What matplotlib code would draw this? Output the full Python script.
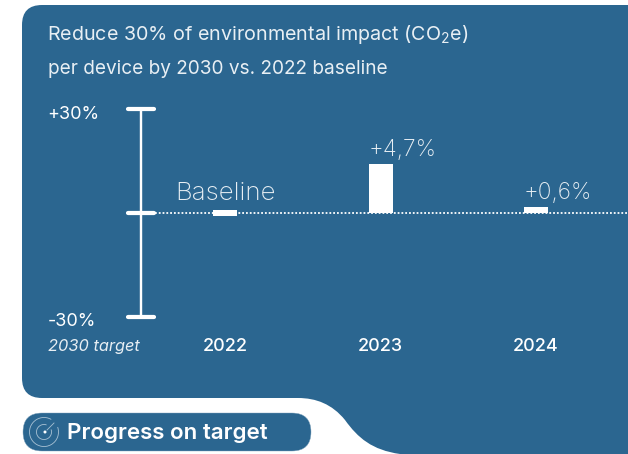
import matplotlib
matplotlib.use('Agg')
import matplotlib.pyplot as plt
from matplotlib.patches import PathPatch, FancyBboxPatch, Arc, Circle
from matplotlib.path import Path

years = ['2022', '2023', '2024']
impact = [0, 4.7, 0.6]
impact_labels = ['Baseline', '+4,7%', '+0,6%']
target_values = [30, 0, -30]
target_labels = ['+30%', '-30%']

BLUE = '#2b6690'
TXT = '#e8eff4'
W, H = 628, 454
px = 0.72  # pixels to points at dpi 100

plt.rcParams['font.family'] = ['Inter', 'DejaVu Sans']
plt.rcParams['mathtext.default'] = 'regular'

fig = plt.figure(figsize=(W / 100, H / 100), dpi=100, facecolor='white')

# background shapes, in pixels
bg = fig.add_axes([0, 0, 1, 1])
bg.set_xlim(0, W)
bg.set_ylim(H, 0)
bg.axis('off')

verts = [(42, 5), (W, 5), (W, H), (400, H),
         (372, 450), (358, 438), (345, 420),
         (332, 404), (316, 398), (298, 398),
         (42, 398), (22, 398), (22, 378),
         (22, 25), (22, 5), (42, 5), (42, 5)]
codes = [Path.MOVETO, Path.LINETO, Path.LINETO, Path.LINETO,
         Path.CURVE4, Path.CURVE4, Path.CURVE4,
         Path.CURVE4, Path.CURVE4, Path.CURVE4,
         Path.LINETO, Path.CURVE3, Path.CURVE3,
         Path.LINETO, Path.CURVE3, Path.CURVE3, Path.CLOSEPOLY]
bg.add_patch(PathPatch(Path(verts, codes), fc=BLUE, ec='none'))

bg.add_patch(FancyBboxPatch((23, 413), 288, 38, boxstyle='round,pad=0,rounding_size=19',
                            fc=BLUE, ec='#7fa3bc', lw=0.3))
bg.text(67, 433, 'Progress on target', color='white', fontsize=16.1, fontweight='semibold', va='center')

# target icon
icon = '#a9c2d4'
bg.add_patch(Arc((44, 432), 29, 29, theta1=-20, theta2=300, color=icon, lw=0.6))
bg.add_patch(Arc((44, 432), 15, 15, theta1=-20, theta2=290, color=icon, lw=0.6))
bg.add_patch(Circle((45, 432), 1.5, fc='white', ec='none'))
bg.plot([47, 54], [430, 423], color=icon, lw=0.6)

bg.text(47, 34, 'Reduce 30% of environmental impact (CO$_2$e)', color=TXT, fontsize=14.2, va='center')
bg.text(48, 68.5, 'per device by 2030 vs. 2022 baseline', color=TXT, fontsize=13.7, va='center')
bg.text(48, 346.5, '2030 target', color=TXT, fontsize=11.8, style='italic', va='center')

# bars: 2022 at x=225, one year is 155.5 px, zero at y=213, 10.4 px per %
step = 155.5
xlim = (-225 / step, (W - 225) / step)
ax = fig.add_axes([0, 0, 1, 1], facecolor='none')
ax.set_xlim(xlim)
ax.set_ylim(-(H - 213) / 10.4, 213 / 10.4)
ax.axis('off')

xs = list(range(len(years)))
ax.bar(xs[1:], impact[1:], width=24 / step, color='white')
ax.plot(xs[0], impact[0], marker='_', ms=24 * px, mew=6 * px, color='white', zorder=3)
ax.hlines(0, (155 - 225) / step, xlim[1], color='white', lw=1.3, linestyles=(0, (1, 1.1)), zorder=1)

# Baseline is centred on its mark, the others start at the bar's left edge
ax.annotate(impact_labels[0], (xs[0], impact[0]), xytext=(0, 19 * px), textcoords='offset points',
            ha='center', va='center', color=TXT, fontsize=18.6, fontweight='light')
for x, v, lab in zip(xs[1:], impact[1:], impact_labels[1:]):
    ax.annotate(lab, (x - 12 / step, v), xytext=(0, 14 * px), textcoords='offset points',
                ha='left', va='center', color=TXT, fontsize=16.4, fontweight='light')
for x, y in zip(xs, years):
    ax.text(x, -(346.5 - 213) / 10.4, y, ha='center', va='center', color='white', fontsize=13, fontweight='medium')

# target scale: +-30% spans 104.5 px each way from the same zero
ax2 = fig.add_axes([0, 0, 1, 1], facecolor='none')
ax2.set_xlim(xlim)
ax2.set_ylim(-(H - 213) / 3.48, 213 / 3.48)
ax2.axis('off')
xt = (141 - 225) / step
ax2.plot([xt, xt], [target_values[-1], target_values[0]], color='white', lw=2.4 * px)
ax2.hlines(target_values, xt - 13 / step, xt + 13 / step, color='white', lw=4.2 * px, capstyle='round', zorder=4)
xl = (48 - 225) / step
ax2.annotate(target_labels[0], (xl, 30), xytext=(-1 * px, -5.5 * px), textcoords='offset points',
             color='white', fontsize=13, va='center', ha='left')
ax2.annotate(target_labels[1], (xl, -30), xytext=(0, -4.5 * px), textcoords='offset points',
             color='white', fontsize=13, va='center', ha='left')

fig.savefig('out.png', dpi=100)
